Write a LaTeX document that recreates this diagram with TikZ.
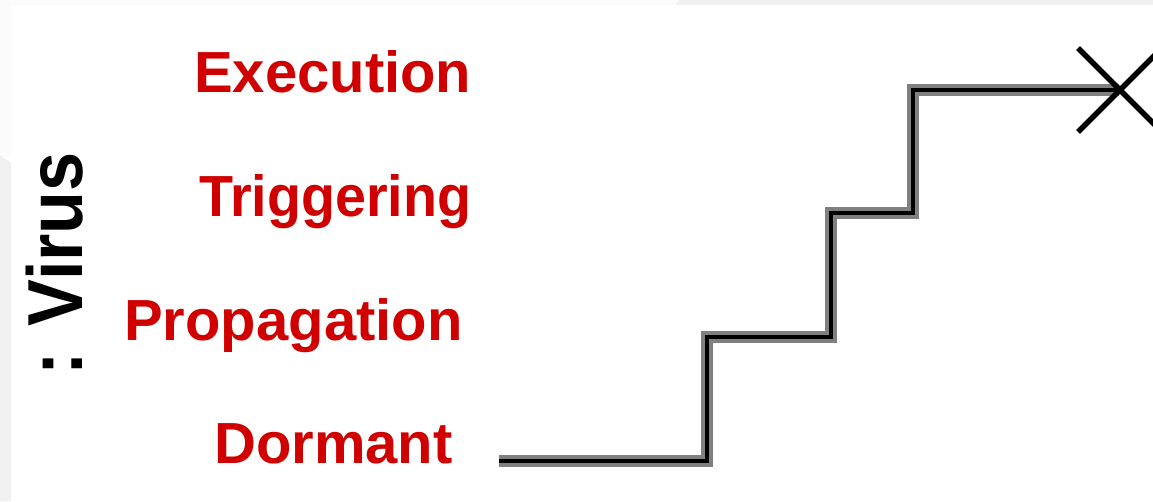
\documentclass[tikz,border=0pt]{standalone}
\usepackage{fontspec}
\setmainfont{Liberation Sans}
\usepackage{graphicx}
\definecolor{labred}{RGB}{208,0,0}
\definecolor{stepgray}{RGB}{128,128,128}
\definecolor{edgegray}{RGB}{240,240,240}
\definecolor{faintgray}{RGB}{251,251,251}
\tikzset{
  lbl/.style={text=labred, inner sep=0pt, anchor=base west, font=\fontsize{58}{60}\selectfont\bfseries},
  vlbl/.style={text=black, inner sep=0pt, rotate=90, anchor=base east, font=\fontsize{78}{80}\selectfont\bfseries},
  stairout/.style={line width=12pt, draw=stepgray, line join=miter, line cap=butt},
  stairin/.style={line width=4.5pt, draw=black, line join=miter, line cap=butt},
  cross/.style={line width=5.5pt, draw=black, line cap=butt}
}
\begin{document}
\begin{tikzpicture}[x=1pt,y=-1pt]
\fill[white] (0,0) rectangle (1153,501);
\useasboundingbox (0,0) rectangle (1153,501);
% background edge strips
\fill[faintgray] (0,0) rectangle (679,5);
\fill[faintgray] (0,0) rectangle (11,157);
\fill[edgegray] (0,155) -- (11,163) -- (11,501) -- (0,501) -- cycle;
\fill[edgegray] (679,0) -- (1153,0) -- (1153,5) -- (676,5) -- cycle;

% labels
\node[lbl] (exe) at (194,92) {Execution};
\node[lbl] (trig) at (199,216) {\scalebox{0.96}[1]{Triggering}};
\node[lbl] (prop) at (124,340) {Propagation};
\node[lbl] (dorm) at (214,463) {Dormant};
\node[vlbl] (virus) at (82,152) {\scalebox{0.9}[1]{: Virus}};

% staircase
\coordinate (s0) at (499,461);
\coordinate (s1) at (707,461);
\coordinate (s2) at (707,337);
\coordinate (s3) at (831,337);
\coordinate (s4) at (831,213);
\coordinate (s5) at (913,213);
\coordinate (s6) at (913,90);
\coordinate (xc) at (1119,90);
\draw[stairout] (s0) -- (s1) -- (s2) -- (s3) -- (s4) -- (s5) -- (s6) -- (xc);
\draw[stairin] (s0) -- (s1) -- (s2) -- (s3) -- (s4) -- (s5) -- (s6) -- (xc);

% end cross
\coordinate (xa) at (1078,48);
\coordinate (xb) at (1162,132);
\coordinate (xd) at (1078,132);
\coordinate (xe) at (1162,48);
\draw[cross] (xa) -- (xb);
\draw[cross] (xd) -- (xe);
\end{tikzpicture}
\end{document}
